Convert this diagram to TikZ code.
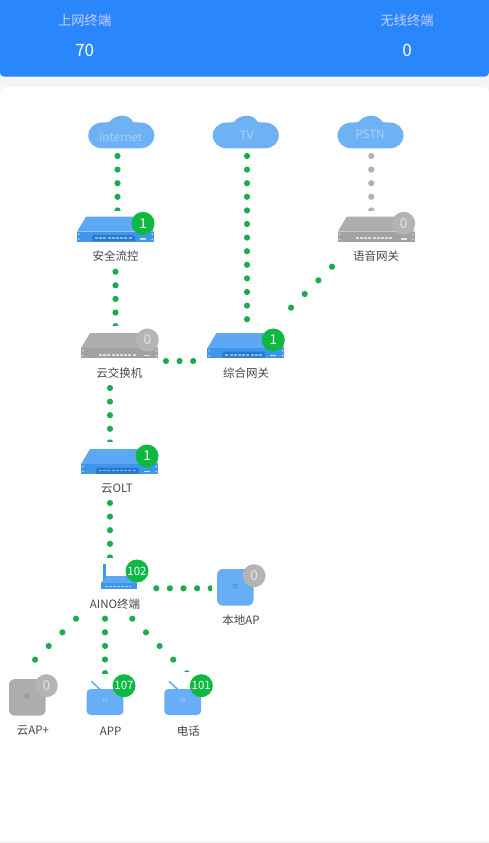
\documentclass[tikz,border=0pt]{standalone}
\usepackage{fontspec}
\setmainfont{Noto Sans CJK SC}
\begin{document}
\begin{tikzpicture}[x=1pt,y=1pt,
  lbl/.style={font=\fontsize{11.5}{13}\selectfont,text=black!72,inner sep=0pt},
  hdrlbl/.style={font=\fontsize{13.3}{15}\selectfont,text=white!80!blue,inner sep=0pt},
  hdrnum/.style={font=\fontsize{17}{19}\selectfont,text=white,inner sep=0pt},
  cloudtxt/.style={font=\fontsize{11.5}{13}\selectfont,text=cloudtext,inner sep=0pt},
  badge/.style={circle,minimum size=23pt,inner sep=0pt,text=white,font=\fontsize{11.5}{13}\selectfont},
  bigdigit/.style={font=\fontsize{13.5}{15}\selectfont},
  onb/.style={badge,fill=badgegreen},
  offb/.style={badge,fill=badgegray,text=white!90!black,bigdigit},
  link/.style={line width=6.2pt,line cap=round,draw=linkgreen,dash pattern=on 0pt off #1pt},
  link/.default=13.6,
  glink/.style={line width=6.2pt,line cap=round,draw=linkgray,dash pattern=on 0pt off 13.6pt}
]
\definecolor{hdrblue}{HTML}{2A86FB}
\definecolor{bandgray}{HTML}{F3F5F6}
\definecolor{cloudblue}{HTML}{6FB1F5}
\definecolor{cloudtext}{HTML}{A9D1FA}
\definecolor{badgegreen}{HTML}{0DB940}
\definecolor{badgegray}{HTML}{B4B4B4}
\definecolor{linkgreen}{HTML}{1FA952}
\definecolor{linkgray}{HTML}{B2B2B2}
\definecolor{devblue}{HTML}{5CA8F3}
\definecolor{devfront}{HTML}{3F97EC}
\definecolor{devdark}{HTML}{2A78C8}
\definecolor{devgray}{HTML}{ADADAD}
\definecolor{devgfront}{HTML}{A2A2A2}
\definecolor{apblue}{HTML}{68AEF6}
\useasboundingbox (0,0) rectangle (489,-843);
\fill[white] (0,0) rectangle (489,-843);
% header
\fill[bandgray] (0,-60) rectangle (489,-100);
\fill[white,rounded corners=6pt] (0,-87) rectangle (489,-860);
\fill[bandgray] (0,-840.5) rectangle (489,-843);
\fill[hdrblue,rounded corners=4pt] (0,-76.5) -- (489,-76.5) -- (489,10) -- (0,10) -- cycle;
\node[hdrlbl] (h1) at (84.7,-20.3) {上网终端};
\node[hdrnum] (n1) at (84.7,-50) {70};
\node[hdrlbl] (h2) at (407,-20.3) {无线终端};
\node[hdrnum] (n2) at (407,-50) {0};
% connector end points
\coordinate (c1a) at (117.5,-156); \coordinate (c1b) at (117.5,-211);
\coordinate (c2a) at (247,-156);   \coordinate (c2b) at (247,-320);
\coordinate (c3a) at (371.3,-156); \coordinate (c3b) at (371.3,-211);
\coordinate (c4a) at (115.5,-271.7); \coordinate (c4b) at (115.5,-327);
\coordinate (c5a) at (332,-266.7); \coordinate (c5b) at (278.5,-320.2);
\coordinate (c6a) at (166,-361);   \coordinate (c6b) at (194,-361);
\coordinate (c7a) at (110,-388);   \coordinate (c7b) at (110,-443);
\coordinate (c8a) at (110,-503);   \coordinate (c8b) at (110,-558);
\coordinate (c9a) at (156.3,-588.3); \coordinate (c9b) at (212,-588.3);
\coordinate (c10a) at (76,-618.7); \coordinate (c10b) at (21.5,-673.2);
\coordinate (c11a) at (105,-618.7); \coordinate (c11b) at (105,-674);
\coordinate (c12a) at (132.3,-618.7); \coordinate (c12b) at (187,-673.4);
% connectors
\draw[link] (c1a) -- (c1b);
\draw[link] (c2a) -- (c2b);
\draw[glink] (c3a) -- (c3b);
\draw[link] (c4a) -- (c4b);
\draw[link=19.3] (c5a) -- (c5b);
\draw[link] (c6a) -- (c6b);
\draw[link] (c7a) -- (c7b);
\draw[link] (c8a) -- (c8b);
\draw[link] (c9a) -- (c9b);
\draw[link=19.3] (c10a) -- (c10b);
\draw[link] (c11a) -- (c11b);
\draw[link=19.3] (c12a) -- (c12b);
% white masks for cut dots
\foreach \mx/\my/\mw/\mh in {77/210.5/78/30, 337/210.5/79/30, 80/326/79/30, 251/320/34/30, 81/442/78/30, 101/557.5/36/32, 212/569/42/37, 5/671.5/41/44, 86/673.5/38/41, 164/672.3/38/41}
  \fill[white] (\mx,-\my) rectangle ++(\mw,-\mh);
% clouds
\newcommand{\cloudat}[1]{%
  \begin{scope}[shift={(#1,0)}]
  \fill[cloudblue] (-33,-135.5) .. controls (-33,-128) and (-27,-122.5) .. (-19,-122.5)
    .. controls (-16,-122.5) and (-14,-122.5) .. (-12,-122)
    .. controls (-9,-118) and (-4,-115.7) .. (1,-115.7)
    .. controls (6,-115.7) and (10,-118.5) .. (12,-122)
    .. controls (14,-122.5) and (16,-122.5) .. (19,-122.5)
    .. controls (27,-122.5) and (33,-128) .. (33,-135.5)
    .. controls (33,-143) and (27,-148.3) .. (19,-148.3)
    -- (-19,-148.3) .. controls (-27,-148.3) and (-33,-143) .. (-33,-135.5) -- cycle;
  \end{scope}}
\cloudat{121.3}\cloudat{245.8}\cloudat{370.5}
\node[cloudtxt] (cInternet) at (120.7,-136.7) {internet};
\node[cloudtxt] (cTV) at (246.7,-135.7) {TV};
\node[cloudtxt] (cPSTN) at (370,-134.3) {PSTN};
% rack device: #1 x-left, #2 y-top, #3 top colour, #4 front colour, #5 panel colour, #6 mark colour
\newcommand{\rackdev}[6]{%
  \begin{scope}[shift={(#1,-#2)}]
  \fill[#3] (9,0) -- (70,0) -- (77,-15) -- (0,-15) -- cycle;
  \fill[#4] (0,-15) rectangle (77,-25);
  \fill[#5] (15,-20) -- (17,-18.5) -- (56,-18.5) -- (58,-20) -- (58,-24.5) -- (15,-24.5) -- cycle;
  \draw[#6,line width=1.6pt,dash pattern=on 3pt off 1.2pt] (18,-21.5) -- (55,-21.5);
  \fill[white!70!#4] (63,-21.5) rectangle (69,-23);
  \foreach \hx in {1.8,75.2} \foreach \hy in {-17.5,-22.5} \fill[white!80!#4] (\hx,\hy) circle (0.8);
  \end{scope}}
\rackdev{77}{216.7}{devblue}{devfront}{devdark}{white!35!devfront}
\rackdev{337.7}{216.7}{devgray}{devgfront}{devgfront}{white!65!devgfront}
\rackdev{81}{333.2}{devgray}{devgfront}{devgfront}{white!65!devgfront}
\rackdev{207.3}{333.2}{devblue}{devfront}{devdark}{white!35!devfront}
\rackdev{81}{449}{devblue}{devfront}{devdark}{white!35!devfront}
% router
\fill[devfront] (103,-564) rectangle (105.5,-580);
\fill[devblue] (106,-576) -- (132,-576) -- (137,-583) -- (101,-583) -- cycle;
\fill[devfront] (101,-583) rectangle (137,-589);
\draw[white!55!devfront,line width=1pt,dash pattern=on 2.5pt off 1.5pt] (105,-586) -- (131,-586);
% AP boxes
\fill[apblue,rounded corners=6pt] (217,-569) rectangle (253.5,-605.7);
\draw[devfront,line width=1pt] (235,-586) circle (2);
\fill[devgray,rounded corners=6pt] (9,-679) rectangle (45.7,-715.7);
\draw[black!45,line width=1pt] (26.7,-696) circle (2);
% TV icons
\newcommand{\tvdev}[1]{%
  \begin{scope}[shift={(#1,0)}]
  \draw[apblue,line width=1.6pt,line cap=round] (5,-681.7) -- (13.5,-689.5);
  \fill[apblue,rounded corners=4pt] (0,-689) rectangle (36.7,-715);
  \node[font=\fontsize{5}{6}\selectfont,text=white!55!apblue,inner sep=0pt] at (18.3,-700.5) {TV};
  \end{scope}}
\tvdev{86.7}\tvdev{164.3}
% badges
\node[onb,bigdigit] (b1) at (143,-223.3) {1};
\node[offb] (b2) at (403.7,-223.3) {0};
\node[offb] (b3) at (147.3,-340) {0};
\node[onb,bigdigit] (b4) at (273.3,-340) {1};
\node[onb,bigdigit] (b5) at (147,-456) {1};
\node[onb] (b6) at (137,-571) {102};
\node[offb] (b7) at (254,-575.7) {0};
\node[offb] (b8) at (46.3,-685.7) {0};
\node[onb] (b9) at (124,-685.7) {107};
\node[onb] (b10) at (201.3,-685.7) {101};
% labels
\node[lbl] (l1) at (115.7,-256.5) {安全流控};
\node[lbl] (l2) at (376,-256.5) {语音网关};
\node[lbl] (l3) at (119.3,-373.3) {云交换机};
\node[lbl] (l4) at (246,-373.3) {综合网关};
\node[lbl] (l5) at (117,-489) {云OLT};
\node[lbl] (l6) at (115,-604) {AINO终端};
\node[lbl] (l7) at (241,-620) {本地AP};
\node[lbl] (l8) at (33,-731) {云AP+};
\node[lbl] (l9) at (110.7,-731) {APP};
\node[lbl] (l10) at (188.3,-731) {电话};
\end{tikzpicture}
\end{document}
